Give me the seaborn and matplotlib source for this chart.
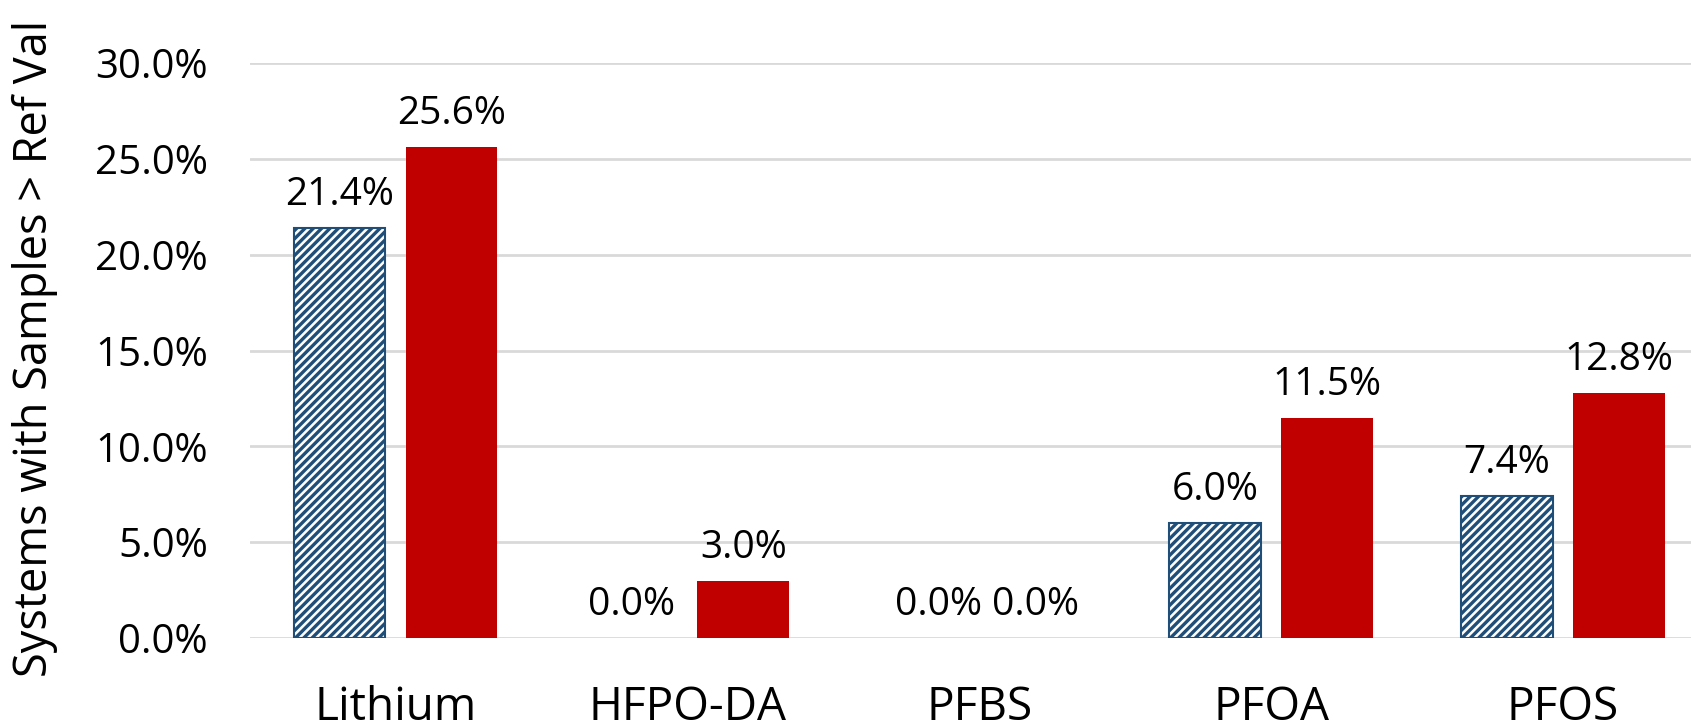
import matplotlib
matplotlib.use("Agg")
import matplotlib.pyplot as plt
import seaborn as sns
import pandas as pd
from matplotlib.ticker import PercentFormatter

analytes = ["Lithium", "HFPO-DA", "PFBS", "PFOA", "PFOS"]
series_names = ["Series 1", "Series 2"]
series_1 = [21.4, 0.0, 0.0, 6.0, 7.4]
series_2 = [25.6, 3.0, 0.0, 11.5, 12.8]
y_ticks = [0, 5, 10, 15, 20, 25, 30]

df = pd.DataFrame({
    "analyte": analytes * 2,
    "series": [series_names[0]] * len(analytes) + [series_names[1]] * len(analytes),
    "pct": series_1 + series_2,
})

sns.set_theme(style="white")
plt.rcParams["font.family"] = ["Open Sans", "DejaVu Sans"]
plt.rcParams["hatch.linewidth"] = 2.4
plt.rcParams["hatch.color"] = "#1f4e79"

W, H = 1691, 728
fig = plt.figure(figsize=(W / 100, H / 100), dpi=100)
ax_left, ax_bottom = 249.5 / W, 90 / H
ax = fig.add_axes([ax_left, ax_bottom, 1 - ax_left, (638 - 63) / H])

sns.barplot(data=df, x="analyte", y="pct", hue="series", order=analytes,
            hue_order=series_names, palette=["white", "#c00000"],
            width=0.767, gap=0.18, saturation=1, legend=False, ax=ax)

for bar in ax.containers[0]:
    bar.set_hatch("////")
    bar.set_edgecolor("#1f4e79")
    bar.set_linewidth(1.5)
    if bar.get_height() == 0:
        bar.set_visible(False)
for bar in ax.containers[1]:
    bar.set_linewidth(0)

pad = 10
labels = []
for cont in ax.containers:
    labels.append(ax.bar_label(cont, fmt="%.1f%%", padding=pad, fontsize=28, color="black"))
# Excel nudged the first PFBS label to the right
labels[0][2].xyann = (11, pad)

ax.set_ylim(0, 30)
ax.set_xlim(-0.5, 4.5 - 18 / 292)
ax.set_yticks(y_ticks)
ax.yaxis.set_major_formatter(PercentFormatter(decimals=1))
ax.grid(axis="y", color="#d9d9d9", linewidth=2)
ax.set_axisbelow(True)
for s in ax.spines.values():
    s.set_visible(False)
ax.tick_params(axis="y", length=0, pad=30, labelsize=29, labelcolor="black")
ax.tick_params(axis="x", length=0, pad=34, labelsize=33, labelcolor="black")
ax.set_xlabel("")
ax.set_ylabel("")

fig.text(58 / W, 1 - 677 / H, "Systems with Samples > Ref Val", rotation=90,
         rotation_mode="anchor", ha="left", va="bottom", fontsize=32.5, color="black")

fig.savefig("out.png", dpi=100)
